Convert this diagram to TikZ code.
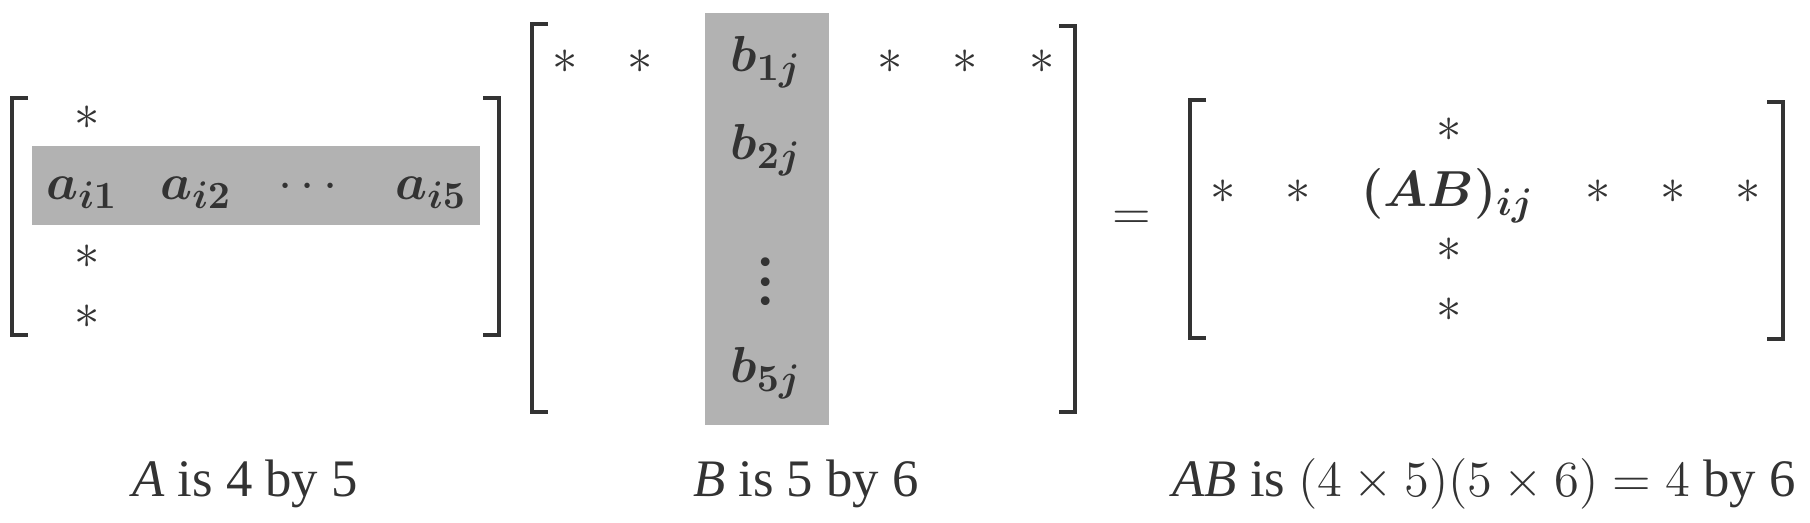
\documentclass[tikz,border=0pt]{standalone}
\usepackage[no-math]{fontspec}
\usepackage{xcolor}
\usepackage{amsmath}
\usepackage{tikz}
\setmainfont{Liberation Serif}
\definecolor{ink}{gray}{0.2}
\definecolor{cellgray}{gray}{0.70}

\begin{document}
\begin{tikzpicture}[every node/.style={inner sep=0pt,text=ink,font=\fontsize{15}{18}\selectfont},
  entry/.style={anchor=base},
  caption/.style={anchor=base},
  bracket/.style={draw=ink,line width=0.9pt}]
  \useasboundingbox (0,0) rectangle (18.10,5.23);

  \fill[cellgray] (0.32,2.98) rectangle (4.80,3.77);
  \fill[cellgray] (7.05,0.98) rectangle (8.29,5.10);

  \draw[bracket] (0.28,4.25) -- (0.12,4.25) -- (0.12,1.88) -- (0.28,1.88);
  \draw[bracket] (4.83,4.25) -- (4.99,4.25) -- (4.99,1.88) -- (4.83,1.88);

  \draw[bracket] (5.48,4.99) -- (5.32,4.99) -- (5.32,1.11) -- (5.48,1.11);
  \draw[bracket] (10.59,4.97) -- (10.75,4.97) -- (10.75,1.11) -- (10.59,1.11);

  \draw[bracket] (12.06,4.23) -- (11.90,4.23) -- (11.90,1.85) -- (12.06,1.85);
  \draw[bracket] (17.67,4.21) -- (17.83,4.21) -- (17.83,1.84) -- (17.67,1.84);

  \node (astar1) at (0.87,4.05) {$*$};
  \node[entry] (ai1) at (0.82,3.23) {$\boldsymbol{a_{i1}}$};
  \node[entry] (ai2) at (1.96,3.23) {$\boldsymbol{a_{i2}}$};
  \node (aidots) at (3.12,3.36) {$\cdots$};
  \node[entry] (ai5) at (4.31,3.23) {$\boldsymbol{a_{i5}}$};
  \node (astar3) at (0.87,2.66) {$*$};
  \node (astar4) at (0.87,2.06) {$*$};

  \node (bstar1) at (5.65,4.61) {$*$};
  \node (bstar2) at (6.40,4.61) {$*$};
  \node[entry] (b1j) at (7.66,4.51) {$\boldsymbol{b_{1j}}$};
  \node (bstar4) at (8.90,4.61) {$*$};
  \node (bstar5) at (9.65,4.61) {$*$};
  \node (bstar6) at (10.42,4.61) {$*$};
  \node[entry] (b2j) at (7.66,3.63) {$\boldsymbol{b_{2j}}$};
  \node[scale=1.4] (bjdots) at (7.66,2.56) {$\vdots$};
  \node[entry] (b5j) at (7.66,1.40) {$\boldsymbol{b_{5j}}$};

  \node (eq) at (11.32,3.03) {$=$};

  \node (abstar1) at (14.49,3.93) {$*$};
  \node (abrow1) at (12.23,3.31) {$*$};
  \node (abrow2) at (12.98,3.31) {$*$};
  \node (abij) at (14.48,3.27) {$\boldsymbol{(AB)_{ij}}$};
  \node (abrow4) at (15.98,3.31) {$*$};
  \node (abrow5) at (16.73,3.31) {$*$};
  \node (abrow6) at (17.48,3.31) {$*$};
  \node (abstar3) at (14.49,2.73) {$*$};
  \node (abstar4) at (14.49,2.13) {$*$};

  \node[caption] (capa) at (2.45,0.26) {\textit{A} is 4 by 5};
  \node[caption] (capb) at (8.06,0.26) {\textit{B} is 5 by 6};
  \node[caption] (capab) at (14.84,0.26) {\textit{AB} is $(4\times5)(5\times6)=4$ by 6};
\end{tikzpicture}
\end{document}
